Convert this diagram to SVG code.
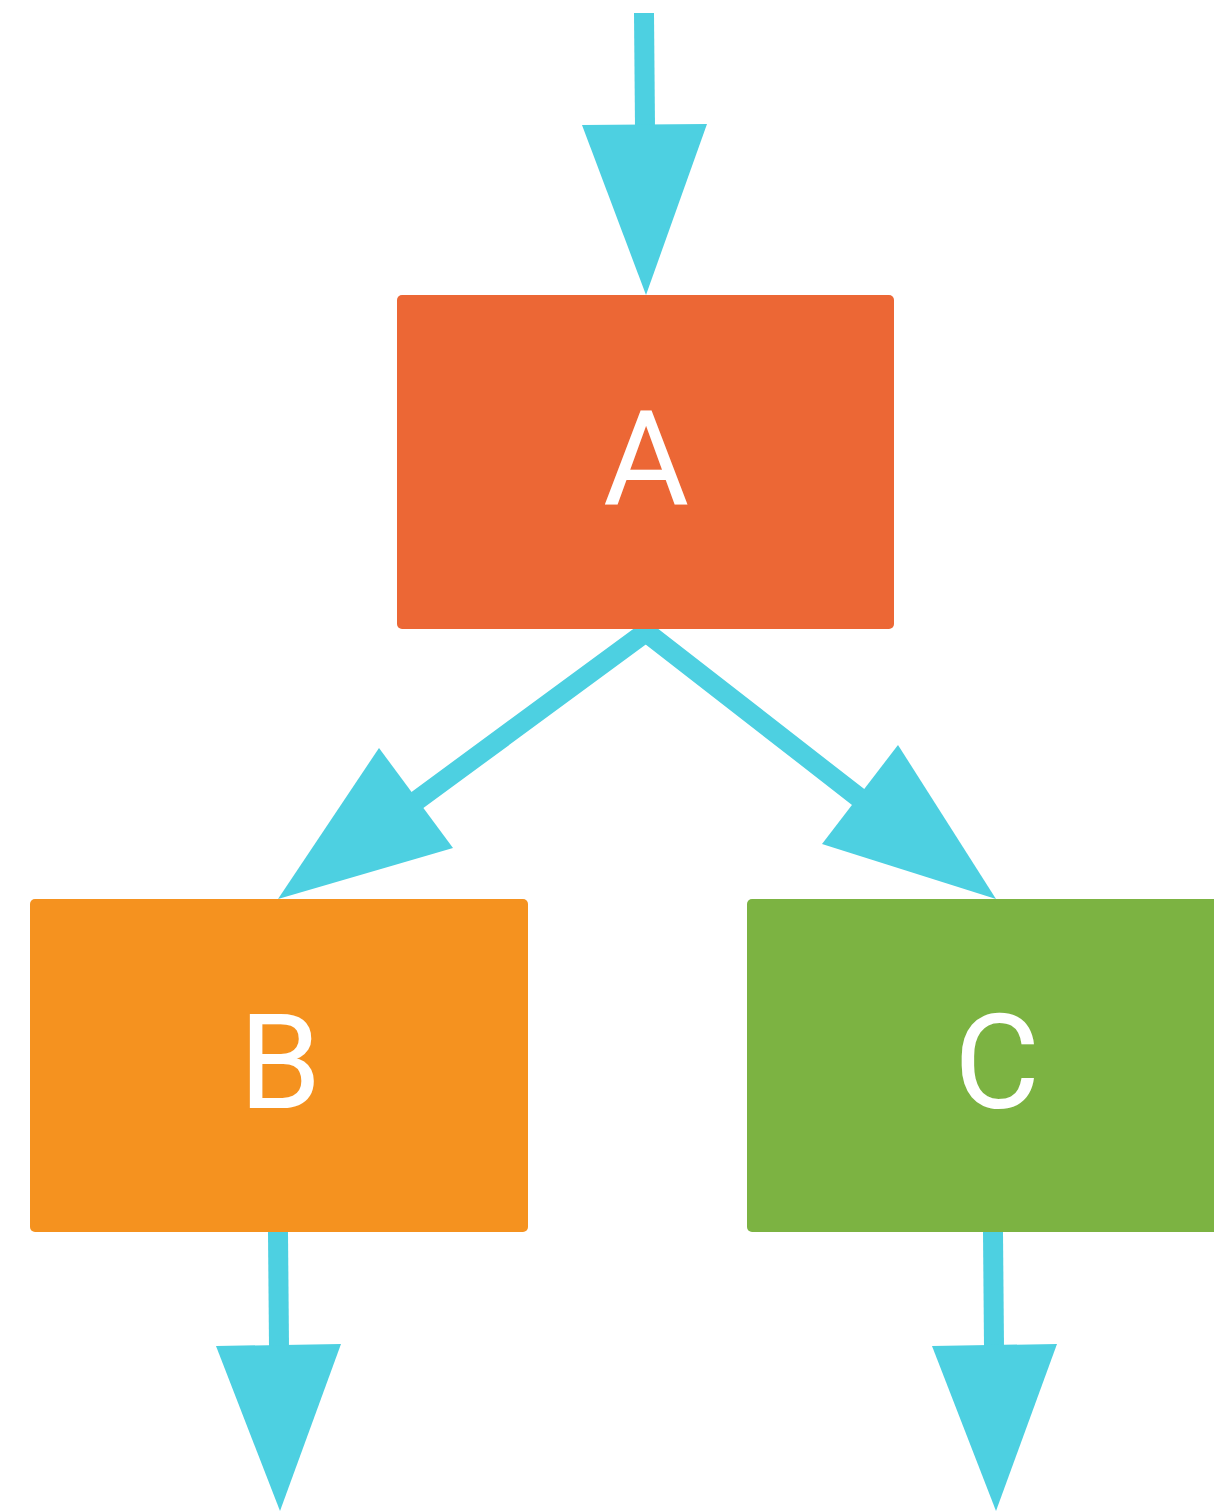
<svg xmlns="http://www.w3.org/2000/svg" width="1214" height="1511" viewBox="0 0 1214 1511">
<style>
.edge{stroke:#4DD0E1;stroke-width:20;fill:none;stroke-linejoin:miter}
.head{fill:#4DD0E1}
.lbl{font-family:Roboto,"Liberation Sans",sans-serif;font-size:132px;fill:#FFFFFF;text-anchor:middle}
</style>
<rect width="1214" height="1511" fill="#FFFFFF"/>
<g id="connectors">
<line class="edge" x1="644" y1="13" x2="645" y2="128"/>
<polygon class="head" points="582,125 707,124 646,295"/>
<path class="edge" d="M412,804 L646,632 L862,800"/>
<polygon class="head" points="379,748 453,848 278,899"/>
<polygon class="head" points="898,745 822,844 996,899"/>
<line class="edge" x1="278" y1="1232" x2="279" y2="1347"/>
<polygon class="head" points="216,1346 341,1344 280,1511"/>
<line class="edge" x1="993" y1="1232" x2="994" y2="1347"/>
<polygon class="head" points="932,1346 1057,1344 996,1511"/>
</g>
<g id="node-A">
<rect x="397" y="295" width="497" height="334" rx="5" fill="#EC6735"/>
<text class="lbl" x="646" y="505">A</text>
</g>
<g id="node-B">
<rect x="30" y="899" width="498" height="333" rx="5" fill="#F5921F"/>
<text class="lbl" x="280" y="1108">B</text>
</g>
<g id="node-C">
<rect x="747" y="899" width="480" height="333" rx="5" fill="#7CB342"/>
<text class="lbl" x="997" y="1108">C</text>
</g>
</svg>
